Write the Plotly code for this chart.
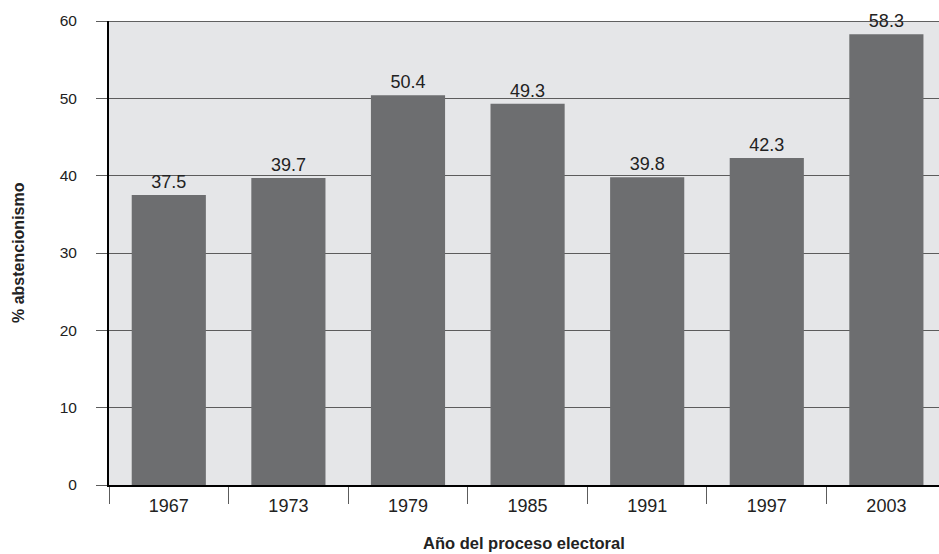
import plotly.graph_objects as go

# Abstención electoral por año de elección
years = ["1967", "1973", "1979", "1985", "1991", "1997", "2003"]
abstention = [37.5, 39.7, 50.4, 49.3, 39.8, 42.3, 58.3]
y_ticks = [0, 10, 20, 30, 40, 50, 60]

BAR = "#6d6e70"
BG = "#e5e6e8"
GRID = "#5c5c5c"
TEXT = "#222222"
FONT = "Liberation Sans"

fig = go.Figure(
    go.Bar(
        x=years,
        y=abstention,
        width=0.62,
        marker=dict(color=BAR, line=dict(width=0)),
        text=[f"{v:.1f}" for v in abstention],
        textposition="outside",
        textfont=dict(family=FONT, size=18, color=TEXT),
        cliponaxis=False,
        hoverinfo="x+y",
    )
)

fig.update_layout(
    width=939,
    height=554,
    margin=dict(l=109, r=0, t=21, b=69),
    paper_bgcolor="white",
    plot_bgcolor=BG,
    showlegend=False,
    xaxis=dict(
        type="category",
        range=[-0.5, 6.44],
        showline=True,
        linecolor="black",
        linewidth=2,
        ticks="outside",
        tickson="boundaries",
        ticklen=17,
        tickwidth=1,
        tickcolor=GRID,
        ticklabelstandoff=3,
        showgrid=False,
        tickfont=dict(family=FONT, size=18, color=TEXT),
        fixedrange=True,
    ),
    yaxis=dict(
        range=[0, 60],
        tickvals=y_ticks,
        showline=True,
        linecolor="black",
        linewidth=2,
        ticks="outside",
        ticklen=11,
        tickwidth=1,
        tickcolor=GRID,
        ticklabelstandoff=16,
        showgrid=True,
        gridcolor=GRID,
        gridwidth=1,
        zeroline=False,
        tickfont=dict(family=FONT, size=15.5, color=TEXT),
        fixedrange=True,
    ),
    shapes=[
        dict(type="line", xref="paper", yref="y", x0=0, x1=1, y0=60, y1=60,
             line=dict(color="#333333", width=1.5), layer="above"),
    ],
    annotations=[
        dict(text="<b>% abstencionismo</b>", xref="paper", yref="paper",
             x=(18 - 109) / 830, y=0.5, xanchor="center", yanchor="middle",
             textangle=-90, showarrow=False,
             font=dict(family=FONT, size=16, color=TEXT)),
        dict(text="<b>Año del proceso electoral</b>", xref="paper", yref="paper",
             x=0.5, y=(485 - 543) / 464, xanchor="center", yanchor="middle",
             showarrow=False,
             font=dict(family=FONT, size=16.5, color=TEXT)),
    ],
)

fig.write_html("out.html")
